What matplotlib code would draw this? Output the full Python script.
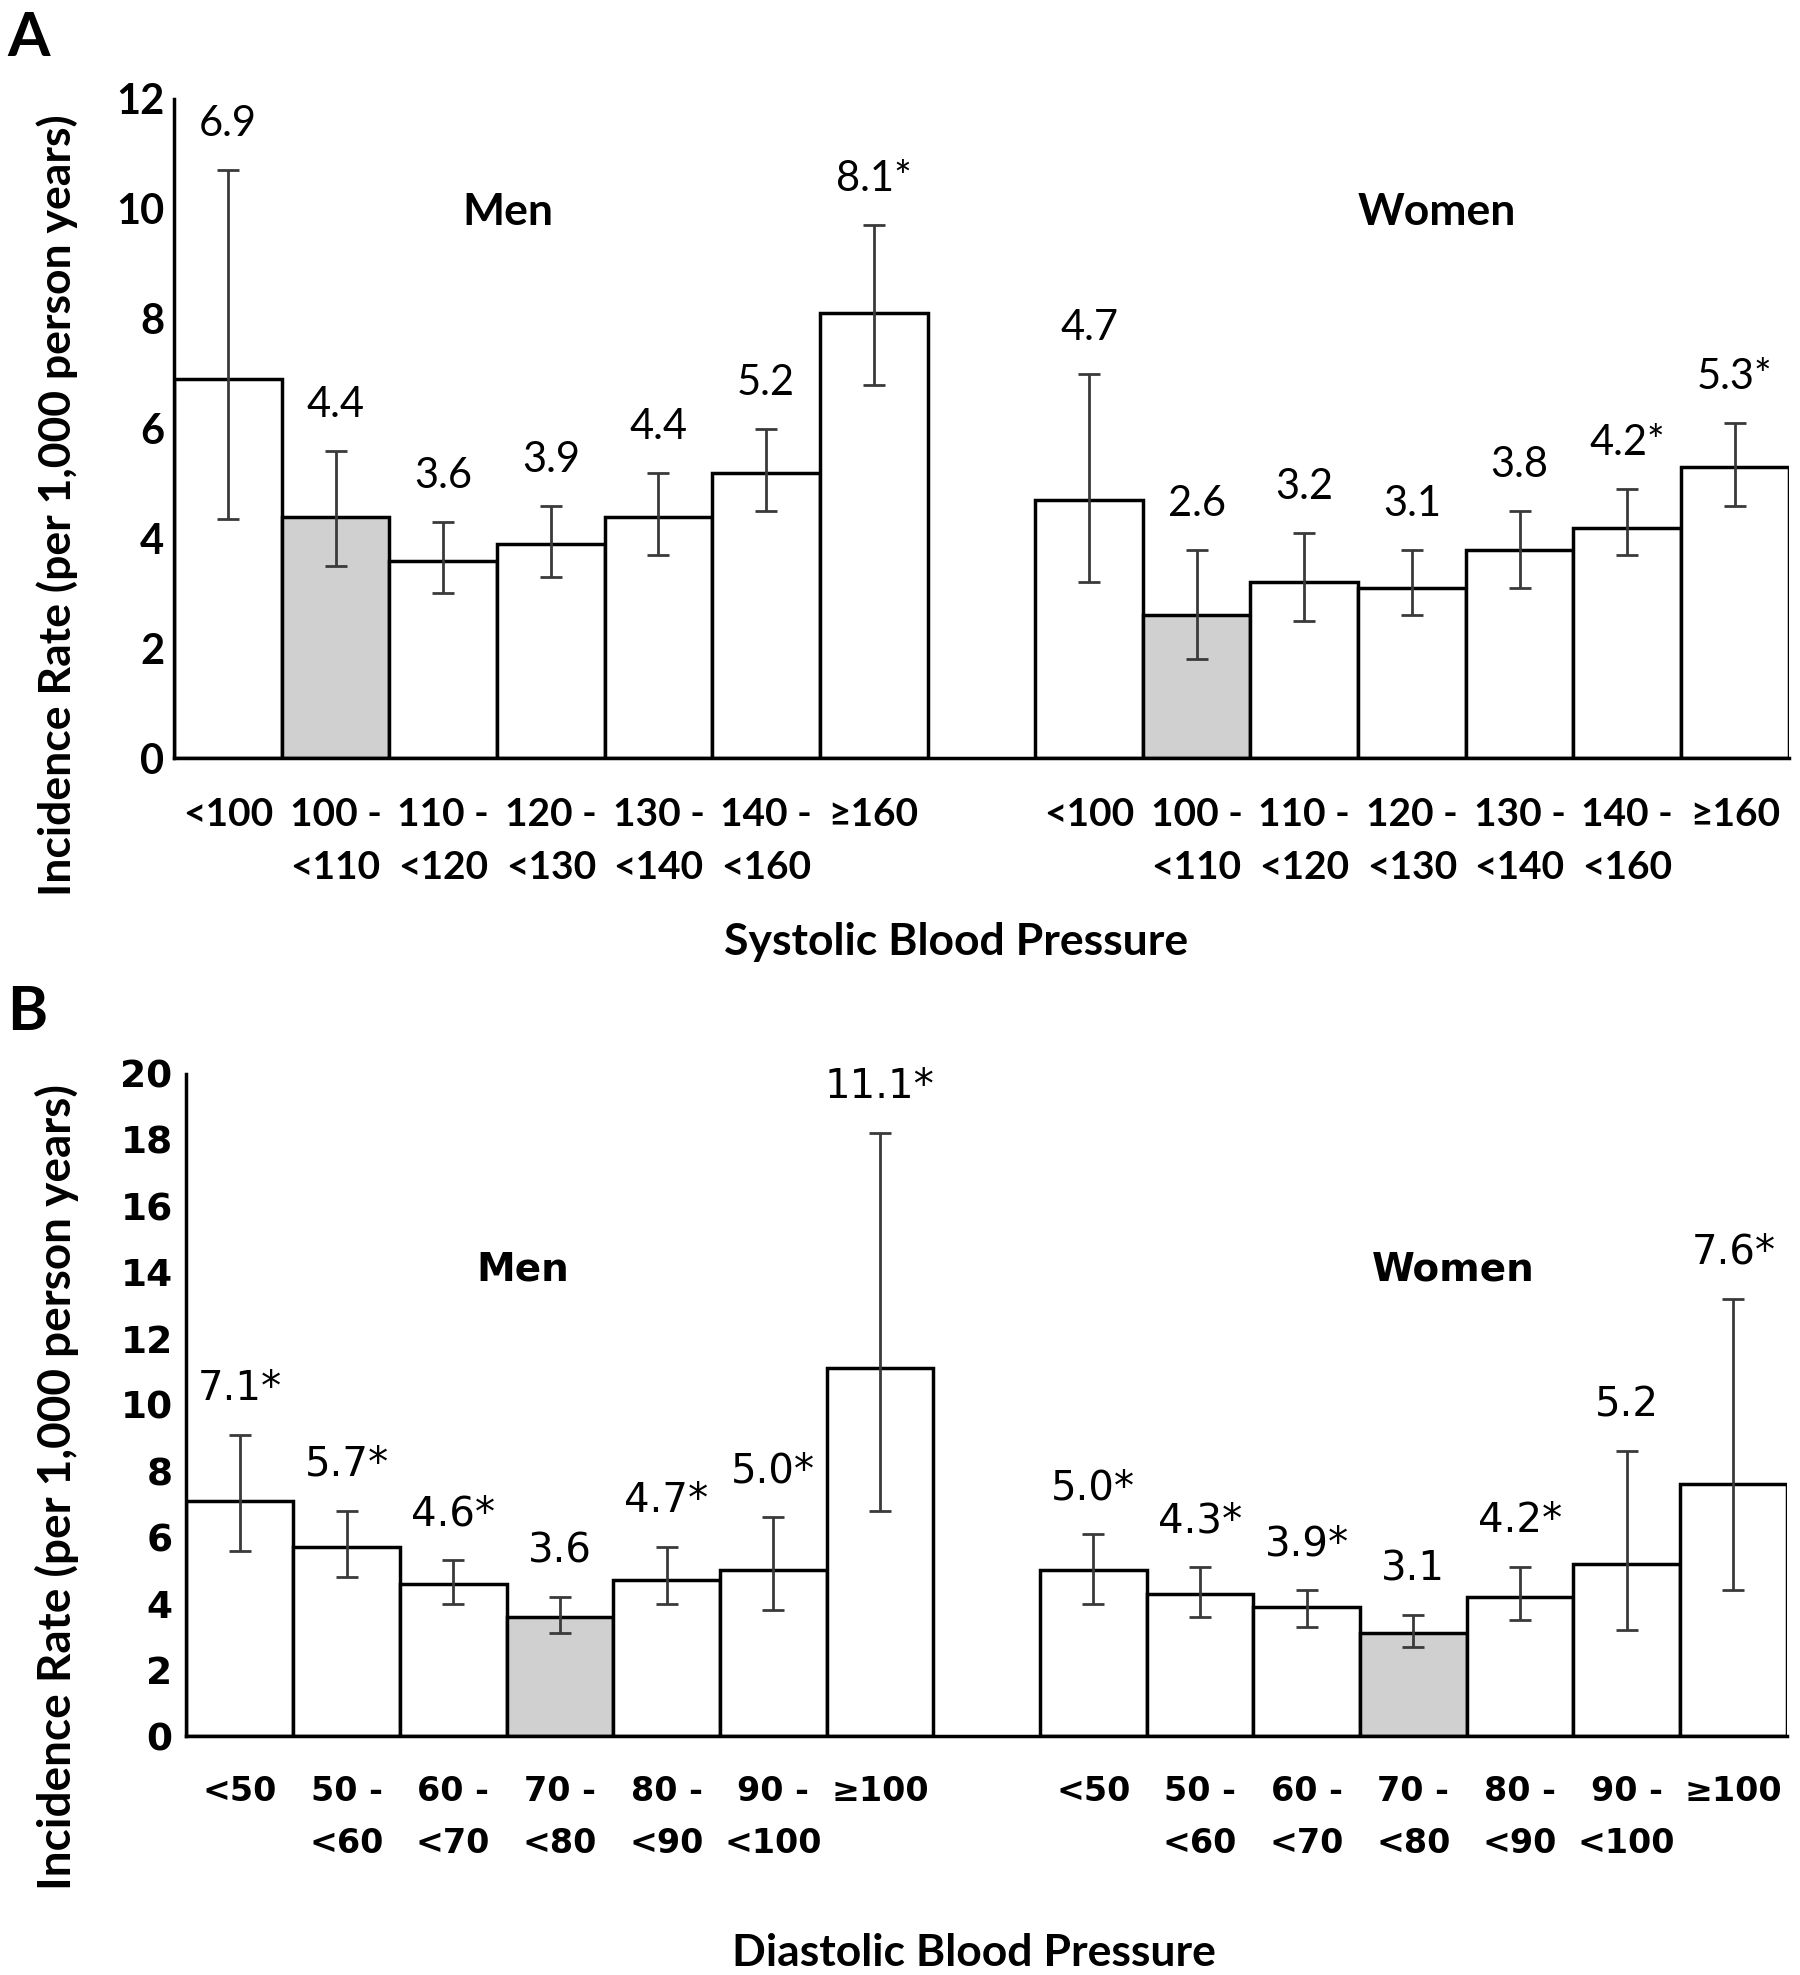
import matplotlib
matplotlib.use("Agg")
import matplotlib.pyplot as plt
import numpy as np

# systolic (panel A)
sys_labels = ["<100", "100 -\n<110", "110 -\n<120", "120 -\n<130", "130 -\n<140", "140 -\n<160", "≥160"]
sys_men = [6.9, 4.4, 3.6, 3.9, 4.4, 5.2, 8.1]
sys_men_lo = [4.35, 3.5, 3.0, 3.3, 3.7, 4.5, 6.8]
sys_men_hi = [10.7, 5.6, 4.3, 4.6, 5.2, 6.0, 9.7]
sys_men_txt = ["6.9", "4.4", "3.6", "3.9", "4.4", "5.2", "8.1*"]
sys_women = [4.7, 2.6, 3.2, 3.1, 3.8, 4.2, 5.3]
sys_women_lo = [3.2, 1.8, 2.5, 2.6, 3.1, 3.7, 4.6]
sys_women_hi = [7.0, 3.8, 4.1, 3.8, 4.5, 4.9, 6.1]
sys_women_txt = ["4.7", "2.6", "3.2", "3.1", "3.8", "4.2*", "5.3*"]

# diastolic (panel B)
dia_labels = ["<50", "50 -\n<60", "60 -\n<70", "70 -\n<80", "80 -\n<90", "90 -\n<100", "≥100"]
dia_men = [7.1, 5.7, 4.6, 3.6, 4.7, 5.0, 11.1]
dia_men_lo = [5.6, 4.8, 4.0, 3.1, 4.0, 3.8, 6.8]
dia_men_hi = [9.1, 6.8, 5.3, 4.2, 5.7, 6.6, 18.2]
dia_men_txt = ["7.1*", "5.7*", "4.6*", "3.6", "4.7*", "5.0*", "11.1*"]
dia_women = [5.0, 4.3, 3.9, 3.1, 4.2, 5.2, 7.6]
dia_women_lo = [4.0, 3.6, 3.3, 2.7, 3.5, 3.2, 4.4]
dia_women_hi = [6.1, 5.1, 4.4, 3.65, 5.1, 8.6, 13.2]
dia_women_txt = ["5.0*", "4.3*", "3.9*", "3.1", "4.2*", "5.2", "7.6*"]

ref_idx = {"A": 1, "B": 3}  # reference category drawn in grey

fig = plt.figure(figsize=(18, 19.75), dpi=100)
axA = fig.add_axes([0.0967, 0.616, 0.897, 0.334])
axB = fig.add_axes([0.1036, 0.121, 0.889, 0.3354])


def panel(ax, labels, men, mlo, mhi, mtxt, women, wlo, whi, wtxt, ref, ymax,
          font, tickpad, valsize, xsize, ysize, linesp, groupsize, group_xy):
    xm = np.arange(7)
    xw = np.arange(8, 15)
    for xs, vals, lo, hi, txt in [(xm, men, mlo, mhi, mtxt), (xw, women, wlo, whi, wtxt)]:
        vals = np.array(vals)
        colors = ["white"] * 7
        colors[ref] = "#d0d0d0"
        ax.bar(xs, vals, width=1.0, color=colors, edgecolor="black", linewidth=2.5, zorder=2)
        yerr = [vals - np.array(lo), np.array(hi) - vals]
        ax.errorbar(xs, vals, yerr=yerr, fmt="none", ecolor="#3a3a3a", elinewidth=2,
                    capsize=8, capthick=2, zorder=3)
        for x, h, t in zip(xs, hi, txt):
            ax.annotate(t, xy=(x, h), xytext=(0, 33), textcoords="offset points",
                        ha="center", va="center", fontsize=valsize, family=font)
    ax.set_xlim(-0.5, 14.5)
    ax.set_ylim(0, ymax)
    ax.set_yticks(np.arange(0, ymax + 1, 2))
    ax.set_xticks(list(xm) + list(xw), labels + labels)
    ax.tick_params(axis="x", length=0, pad=28)
    ax.tick_params(axis="y", length=0, pad=tickpad)
    for lab in ax.get_xticklabels():
        lab.set_fontfamily(font)
        lab.set_fontweight("bold")
        lab.set_fontsize(xsize)
        lab.set_linespacing(linesp)
    for lab in ax.get_yticklabels():
        lab.set_fontfamily(font)
        lab.set_fontweight("bold")
        lab.set_fontsize(ysize)
    for s in ["top", "right"]:
        ax.spines[s].set_visible(False)
    for s in ["left", "bottom"]:
        ax.spines[s].set_linewidth(2.5)
    (mx, my), (wx, wy) = group_xy
    ax.text(mx, my, "Men", ha="center", va="center", fontsize=groupsize,
            fontweight="bold", family=font)
    ax.text(wx, wy, "Women", ha="center", va="center", fontsize=groupsize,
            fontweight="bold", family=font)


panel(axA, sys_labels, sys_men, sys_men_lo, sys_men_hi, sys_men_txt,
      sys_women, sys_women_lo, sys_women_hi, sys_women_txt, ref_idx["A"], 12,
      "Lato", 7, 30, 28, 30, 1.6, 32, [(2.6, 9.94), (11.23, 9.94)])
panel(axB, dia_labels, dia_men, dia_men_lo, dia_men_hi, dia_men_txt,
      dia_women, dia_women_lo, dia_women_hi, dia_women_txt, ref_idx["B"], 20,
      "DejaVu Sans", 10, 29, 24, 27, 1.75, 28, [(2.65, 14.1), (11.37, 14.1)])

ylab = "Incidence Rate (per 1,000 person years)"
fig.text(0.0317, 0.744, ylab, rotation=90, ha="center", va="center",
         fontsize=32, fontweight="bold", family="Lato")
fig.text(0.0317, 0.247, ylab, rotation=90, ha="center", va="center",
         fontsize=33, fontweight="bold", family="Lato")
fig.text(0.531, 0.523, "Systolic Blood Pressure", ha="center", va="center",
         fontsize=32, fontweight="bold", family="Lato")
fig.text(0.541, 0.011, "Diastolic Blood Pressure", ha="center", va="center",
         fontsize=32, fontweight="bold", family="Lato")
fig.text(0.004, 0.995, "A", ha="left", va="top", fontsize=44, fontweight="bold", family="Lato")
fig.text(0.004, 0.502, "B", ha="left", va="top", fontsize=44, fontweight="bold", family="Lato")

fig.savefig("out.png", dpi=100)
